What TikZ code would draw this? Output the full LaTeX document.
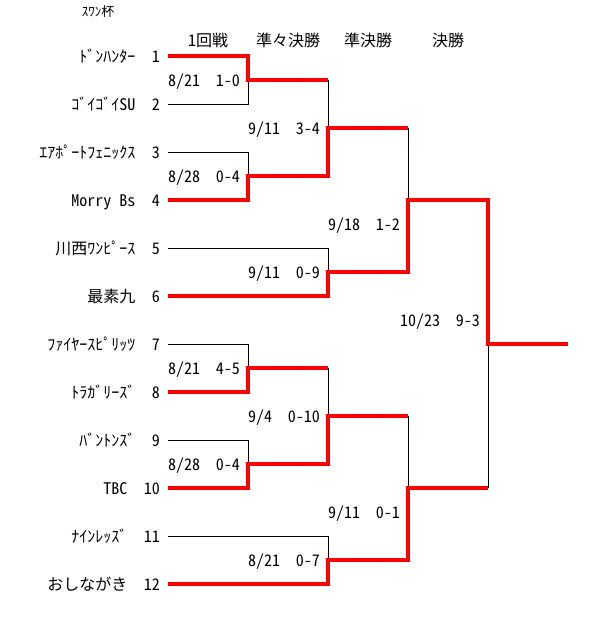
\documentclass[tikz,border=0pt]{standalone}
\usepackage{fontspec}
\setmainfont{Noto Sans CJK JP}[RawFeature=+hwid]
\begin{document}
\begin{tikzpicture}[x=1pt,y=-1pt,
  thinline/.style={draw=black,line width=1pt},
  winline/.style={draw=red,line width=4pt,line join=miter},
  lab/.style={inner sep=0pt,font=\fontsize{16}{16}\selectfont},
  datelab/.style={lab,anchor=base west},
  scorelab/.style={lab,anchor=base east},
  titlelab/.style={inner sep=0pt,font=\fontsize{13}{13}\selectfont}]
\fill[white] (0,0) rectangle (600,624);
\useasboundingbox (0,0) rectangle (600,624);

% title and round headers
\node[titlelab] (title) at (98,12) {ｽﾜﾝ杯};
\node[lab,anchor=base] (h1) at (208,46) {1回戦};
\node[lab,anchor=base] (h2) at (288,46) {準々決勝};
\node[lab,anchor=base] (h3) at (368,46) {準決勝};
\node[lab,anchor=base] (h4) at (448,46) {決勝};

% teams
\foreach \i/\nm in {1/ﾄﾞﾝﾊﾝﾀｰ,2/ｺﾞｲｺﾞｲSU,3/ｴｱﾎﾟｰﾄﾌｪﾆｯｸｽ,4/Morry Bs,5/川西ﾜﾝﾋﾟｰｽ,6/最素九,7/ﾌｧｲﾔｰｽﾋﾟﾘｯﾂ,8/ﾄﾗｶﾞﾘｰｽﾞ,9/ﾊﾞﾝﾄﾝｽﾞ,10/TBC,11/ﾅｲﾝﾚｯｽﾞ,12/おしながき}{
  \coordinate (t\i) at (168,{8+48*\i});
  \node[lab,anchor=base east] (num\i) at (160,{14+48*\i}) {\i};
  \node[lab,anchor=base east] (name\i) at ([xshift=-16pt]num\i.base west) {\nm};
}

% bracket points
\coordinate (m12) at (248,80);
\coordinate (m34) at (248,176);
\coordinate (m78) at (248,368);
\coordinate (m910) at (248,464);
\coordinate (q1) at (328,128);
\coordinate (q2) at (328,272);
\coordinate (q3) at (328,416);
\coordinate (q4) at (328,560);
\coordinate (s1) at (408,200);
\coordinate (s2) at (408,488);
\coordinate (f) at (488,344);
\coordinate (champ) at (568,344);

% losing lines
\draw[thinline] (t2) -| (m12);
\draw[thinline] (t3) -| (m34);
\draw[thinline] (m12 -| q1) -- (q1);
\draw[thinline] (t5) -| (q2);
\draw[thinline] (q1 -| s1) -- (s1);
\draw[thinline] (t7) -| (m78);
\draw[thinline] (t9) -| (m910);
\draw[thinline] (m78 -| q3) -- (q3);
\draw[thinline] (t11) -| (q4);
\draw[thinline] (q3 -| s2) -- (s2);
\draw[thinline] (s2 -| f) -- (f);

% winning lines
\draw[winline] (t1) -| (m12) -- (m12 -| q1);
\draw[winline] (t4) -| (m34) -| (q1) -- (q1 -| s1);
\draw[winline] (t6) -| (q2) -| (s1) -| (f) -- (champ);
\draw[winline] (t8) -| (m78) -- (m78 -| q3);
\draw[winline] (t10) -| (m910) -| (q3) -- (q3 -| s2);
\draw[winline] (t12) -| (q4) -| (s2) -- (s2 -| f);

% results: first round
\node[datelab] (d1) at (168,86) {8/21};   \node[scorelab] (r1) at (240,86) {1-0};
\node[datelab] (d2) at (168,182) {8/28};  \node[scorelab] (r2) at (240,182) {0-4};
\node[datelab] (d3) at (168,374) {8/21};  \node[scorelab] (r3) at (240,374) {4-5};
\node[datelab] (d4) at (168,470) {8/28};  \node[scorelab] (r4) at (240,470) {0-4};
% quarter-finals
\node[datelab] (d5) at (248,134) {9/11};  \node[scorelab] (r5) at (320,134) {3-4};
\node[datelab] (d6) at (248,278) {9/11};  \node[scorelab] (r6) at (320,278) {0-9};
\node[datelab] (d7) at (248,422) {9/4};   \node[scorelab] (r7) at (320,422) {0-10};
\node[datelab] (d8) at (248,566) {8/21};  \node[scorelab] (r8) at (320,566) {0-7};
% semi-finals
\node[datelab] (d9) at (328,230) {9/18};  \node[scorelab] (r9) at (400,230) {1-2};
\node[datelab] (d10) at (328,518) {9/11}; \node[scorelab] (r10) at (400,518) {0-1};
% final
\node[datelab] (d11) at (400,326) {10/23}; \node[scorelab] (r11) at (480,326) {9-3};
\end{tikzpicture}
\end{document}
